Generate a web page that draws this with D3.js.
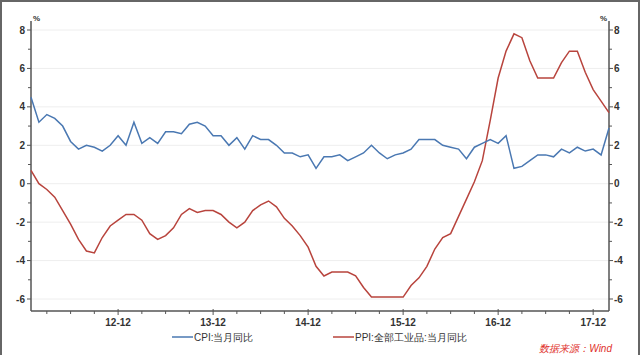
<!DOCTYPE html>
<html><head><meta charset="utf-8">
<script src="https://cdn.jsdelivr.net/npm/d3@7"></script>
<style>body{margin:0;background:#fff}svg{display:block}</style>
</head><body>
<svg id="c" width="640" height="355"></svg>
<script>
const startYear = 2012, startMonth = 1;
const cpi = [4.5,3.2,3.6,3.4,3.0,2.2,1.8,2.0,1.9,1.7,2.0,2.5,
  2.0,3.2,2.1,2.4,2.1,2.7,2.7,2.6,3.1,3.2,3.0,2.5,
  2.5,2.0,2.4,1.8,2.5,2.3,2.3,2.0,1.6,1.6,1.4,1.5,
  0.8,1.4,1.4,1.5,1.2,1.4,1.6,2.0,1.6,1.3,1.5,1.6,
  1.8,2.3,2.3,2.3,2.0,1.9,1.8,1.3,1.9,2.1,2.3,2.1,
  2.5,0.8,0.9,1.2,1.5,1.5,1.4,1.8,1.6,1.9,1.7,1.8,
  1.5,2.9];
const ppi = [0.7,0.0,-0.3,-0.7,-1.4,-2.1,-2.9,-3.5,-3.6,-2.8,-2.2,-1.9,
  -1.6,-1.6,-1.9,-2.6,-2.9,-2.7,-2.3,-1.6,-1.3,-1.5,-1.4,-1.4,
  -1.6,-2.0,-2.3,-2.0,-1.4,-1.1,-0.9,-1.2,-1.8,-2.2,-2.7,-3.3,
  -4.3,-4.8,-4.6,-4.6,-4.6,-4.8,-5.4,-5.9,-5.9,-5.9,-5.9,-5.9,
  -5.3,-4.9,-4.3,-3.4,-2.8,-2.6,-1.7,-0.8,0.1,1.2,3.3,5.5,
  6.9,7.8,7.6,6.4,5.5,5.5,5.5,6.3,6.9,6.9,5.8,4.9,
  4.3,3.7];
const yTicks = [-6,-4,-2,0,2,4,6,8];
const yMinor = [-5,-3,-1,1,3,5,7];
const xTickLabels = ["12-12","13-12","14-12","15-12","16-12","17-12"];
const seriesNames = ["CPI:当月同比","PPI:全部工业品:当月同比"];
const sourceText = "数据来源：Wind";

const svg = d3.select("#c");
const L = 31, R = 609, T = 21, B = 311;
const n = cpi.length;
const x = d3.scaleLinear().domain([0, n-1]).range([L, R]);
const y = d3.scaleLinear().domain([-6, 8]).range([299, 30]);
const font = "'Liberation Sans', Arial, sans-serif";
const axisColor = "#555";
const cpiColor = "#4a78b2", ppiColor = "#b8443d";

// frame
svg.append("path").attr("d","M1,355 V1 H639 V355").attr("fill","none").attr("stroke","#666").attr("stroke-width",2);

// grid
svg.append("g").selectAll("line").data(yTicks).join("line")
  .attr("x1", L).attr("x2", R).attr("y1", d=>y(d)).attr("y2", d=>y(d))
  .attr("stroke", "#eeeeee").attr("stroke-width", 1);

// left axis
const gl = svg.append("g").attr("transform", `translate(${L},0)`);
gl.append("line").attr("y1", T).attr("y2", B).attr("stroke", axisColor).attr("stroke-width", 1.5);
gl.selectAll(".mj").data(yTicks).join("line").attr("x1",-4).attr("x2",0).attr("y1",d=>y(d)).attr("y2",d=>y(d)).attr("stroke",axisColor);
gl.selectAll(".mn").data(yMinor).join("line").attr("x1",-3).attr("x2",0).attr("y1",d=>y(d)).attr("y2",d=>y(d)).attr("stroke",axisColor);
gl.selectAll("text").data(yTicks).join("text").attr("x",-6).attr("y",d=>y(d)).attr("dy","0.35em")
  .attr("text-anchor","end").attr("font-family",font).attr("font-size",10).attr("font-weight","bold").attr("fill","#333").text(d=>d);
gl.append("text").attr("x",2).attr("y",T).attr("font-family",font).attr("font-size",8).attr("font-weight","bold").attr("fill","#333").text("%");

// right axis
const gr = svg.append("g").attr("transform", `translate(${R},0)`);
gr.append("line").attr("y1", T).attr("y2", B).attr("stroke", axisColor).attr("stroke-width", 1.5);
gr.selectAll(".mj").data(yTicks).join("line").attr("x1",0).attr("x2",4).attr("y1",d=>y(d)).attr("y2",d=>y(d)).attr("stroke",axisColor);
gr.selectAll(".mn").data(yMinor).join("line").attr("x1",0).attr("x2",3).attr("y1",d=>y(d)).attr("y2",d=>y(d)).attr("stroke",axisColor);
gr.selectAll("text").data(yTicks).join("text").attr("x",5).attr("y",d=>y(d)).attr("dy","0.35em")
  .attr("text-anchor","start").attr("font-family",font).attr("font-size",10).attr("font-weight","bold").attr("fill","#333").text(d=>d);
gr.append("text").attr("x",-2).attr("y",T).attr("text-anchor","end").attr("font-family",font).attr("font-size",8).attr("font-weight","bold").attr("fill","#333").text("%");

// x axis
const gx = svg.append("g");
gx.append("line").attr("x1", L).attr("x2", R).attr("y1", B).attr("y2", B).attr("stroke", axisColor).attr("stroke-width",1.5);
const idx = d3.range(n);
const quarterTicks = idx.filter(i => (i + startMonth) % 3 === 0 && (i + startMonth) % 12 !== 0);
const majorTicks = idx.filter(i => (i + startMonth) % 12 === 0);
gx.selectAll(".mn").data(quarterTicks).join("line").attr("x1",d=>x(d)).attr("x2",d=>x(d)).attr("y1",B).attr("y2",B+3).attr("stroke",axisColor);
gx.selectAll(".mj").data(majorTicks).join("line").attr("x1",d=>x(d)).attr("x2",d=>x(d)).attr("y1",B-2).attr("y2",B+4).attr("stroke",axisColor);
gx.selectAll("text").data(majorTicks).join("text").attr("x",d=>x(d)).attr("y",B+15)
  .attr("text-anchor","middle").attr("font-family",font).attr("font-size",10).attr("font-weight","bold").attr("fill","#333")
  .text((d,i)=>xTickLabels[i]);

// lines
const line = d3.line().x((d,i)=>x(i)).y(d=>y(d));
svg.append("path").datum(ppi).attr("d", line).attr("fill","none").attr("stroke",ppiColor).attr("stroke-width",1.5);
svg.append("path").datum(cpi).attr("d", line).attr("fill","none").attr("stroke",cpiColor).attr("stroke-width",1.5);

// legend
const lg = svg.append("g").attr("font-family", font).attr("font-size", 10).attr("fill", "#333");
const legendItems = [{x:172, c:cpiColor, t:seriesNames[0]}, {x:333, c:ppiColor, t:seriesNames[1]}];
legendItems.forEach(it => {
  lg.append("line").attr("x1", it.x).attr("x2", it.x+21).attr("y1", 337).attr("y2", 337).attr("stroke", it.c).attr("stroke-width", 1.5);
  lg.append("text").attr("x", it.x+22).attr("y", 337).attr("dy","0.35em").text(it.t);
});

// source
svg.append("text").attr("x", 612).attr("y", 352).attr("text-anchor","end")
  .attr("font-family", font).attr("font-size", 10).attr("font-style","italic").attr("fill","#e0302a").text(sourceText);
</script>
</body></html>
